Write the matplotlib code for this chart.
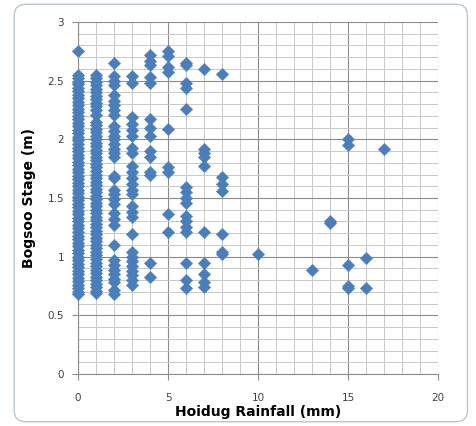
import matplotlib
matplotlib.use("Agg")
import matplotlib.pyplot as plt
from matplotlib.patches import FancyBboxPatch
from matplotlib.ticker import MultipleLocator

# Bogsoo stage (m), grouped by daily Hoidug rainfall (mm)
stage_0mm = [2.75, 2.55, 2.52, 2.49, 2.47, 2.44, 2.41, 2.38, 2.35, 2.32, 2.29,
             2.26, 2.23, 2.20, 2.17, 2.14, 2.11, 2.08, 2.05, 2.02, 1.99, 1.96,
             1.93, 1.90, 1.87, 1.84, 1.81, 1.78, 1.75, 1.72, 1.69, 1.66, 1.63,
             1.60, 1.57, 1.54, 1.51, 1.48, 1.45, 1.42, 1.39, 1.36, 1.33, 1.30,
             1.27, 1.24, 1.21, 1.18, 1.15, 1.12, 1.09, 1.06, 1.03, 1.00, 0.97,
             0.94, 0.91, 0.88, 0.85, 0.82, 0.79, 0.76, 0.73, 0.70, 0.68]
stage_1mm = [2.55, 2.52, 2.49, 2.46, 2.43, 2.40, 2.37, 2.34, 2.31, 2.28, 2.25,
             2.21, 2.15, 2.12, 2.09, 2.06, 2.03, 2.00, 1.97, 1.94, 1.91, 1.88,
             1.85, 1.82, 1.79, 1.76, 1.73, 1.70, 1.67, 1.64, 1.61, 1.58, 1.55,
             1.52, 1.49, 1.46, 1.43, 1.40, 1.37, 1.34, 1.31, 1.28, 1.25, 1.22,
             1.19, 1.16, 1.13, 1.10, 1.07, 1.04, 1.01, 0.98, 0.95, 0.92, 0.89,
             0.86, 0.83, 0.80, 0.77, 0.74, 0.71, 0.69]
stage_2mm = [2.65, 2.54, 2.50, 2.46, 2.38, 2.33, 2.29, 2.25, 2.21, 2.11, 2.07,
             2.03, 2.00, 1.96, 1.92, 1.88, 1.85, 1.69, 1.67, 1.57, 1.53, 1.49,
             1.45, 1.37, 1.32, 1.27, 1.10, 0.97, 0.93, 0.89, 0.85, 0.81, 0.78,
             0.72, 0.68]
stage_3mm = [2.54, 2.48, 2.19, 2.13, 2.08, 2.03, 1.93, 1.88, 1.77, 1.72, 1.67,
             1.62, 1.57, 1.53, 1.43, 1.38, 1.34, 1.19, 1.04, 1.00, 0.96, 0.92,
             0.88, 0.84, 0.80, 0.76]
stage_4mm = [2.72, 2.67, 2.63, 2.53, 2.48, 2.17, 2.10, 2.03, 1.90, 1.85, 1.72,
             1.70, 0.95, 0.83]
stage_5mm = [2.75, 2.71, 2.62, 2.57, 2.09, 1.76, 1.72, 1.36, 1.21]
stage_6mm = [2.65, 2.63, 2.48, 2.44, 2.26, 1.59, 1.55, 1.50, 1.46, 1.35, 1.30,
             1.25, 1.21, 0.95, 0.80, 0.73]
stage_7mm = [2.60, 1.92, 1.88, 1.85, 1.77, 1.21, 0.95, 0.85, 0.78, 0.74]
stage_8mm = [2.56, 1.68, 1.62, 1.56, 1.19, 1.04, 1.02]
stage_other = {10: [1.02], 13: [0.89], 14: [1.30, 1.29],
               15: [2.00, 1.95, 0.93, 0.75, 0.73], 16: [0.99, 0.73], 17: [1.92]}

groups = {0: stage_0mm, 1: stage_1mm, 2: stage_2mm, 3: stage_3mm, 4: stage_4mm,
          5: stage_5mm, 6: stage_6mm, 7: stage_7mm, 8: stage_8mm}
groups.update(stage_other)

rain = []
stage = []
for r, vals in groups.items():
    rain += [r] * len(vals)
    stage += vals

fig = plt.figure(figsize=(4.76, 4.26), dpi=100)
ax = fig.add_axes([0.1639, 0.1221, 0.7563, 0.8263])

# rounded chart frame
frame = FancyBboxPatch((0.03, 0.01), 0.952, 0.98, boxstyle="round,pad=0,rounding_size=0.025",
                       transform=fig.transFigure, fill=False, edgecolor="#B9C4D6",
                       linewidth=1.0, zorder=-1)
fig.patches.append(frame)

ax.scatter(rain, stage, marker="D", s=40, color="#4A7EBB", edgecolors="#4A7EBB",
           linewidths=0.3, zorder=3, clip_on=False)

ax.set_xlim(0, 20)
ax.set_ylim(0, 3)
ax.xaxis.set_major_locator(MultipleLocator(5))
ax.xaxis.set_minor_locator(MultipleLocator(1))
ax.yaxis.set_major_locator(MultipleLocator(0.5))
ax.yaxis.set_minor_locator(MultipleLocator(0.1))
ax.yaxis.set_major_formatter(plt.FuncFormatter(lambda v, p: f"{v:g}"))

ax.grid(which="major", color="#8C8C8C", linewidth=0.8)
ax.grid(which="minor", color="#C8C8C8", linewidth=0.7)
ax.set_axisbelow(True)

for s in ["top", "right"]:
    ax.spines[s].set_visible(False)
for s in ["left", "bottom"]:
    ax.spines[s].set_color("#8C8C8C")
    ax.spines[s].set_linewidth(0.8)

ax.tick_params(which="major", length=4, color="#8C8C8C", labelsize=7.5,
               labelcolor="#404040")
ax.tick_params(which="minor", length=0)
ax.tick_params(axis="x", pad=10)
ax.tick_params(axis="y", pad=6)

ax.set_xlabel("Hoidug Rainfall (mm)", fontsize=10, fontweight="bold", labelpad=1)
ax.set_ylabel("Bogsoo Stage (m)", fontsize=10, fontweight="bold", labelpad=8)

fig.savefig("out.png", dpi=100)
